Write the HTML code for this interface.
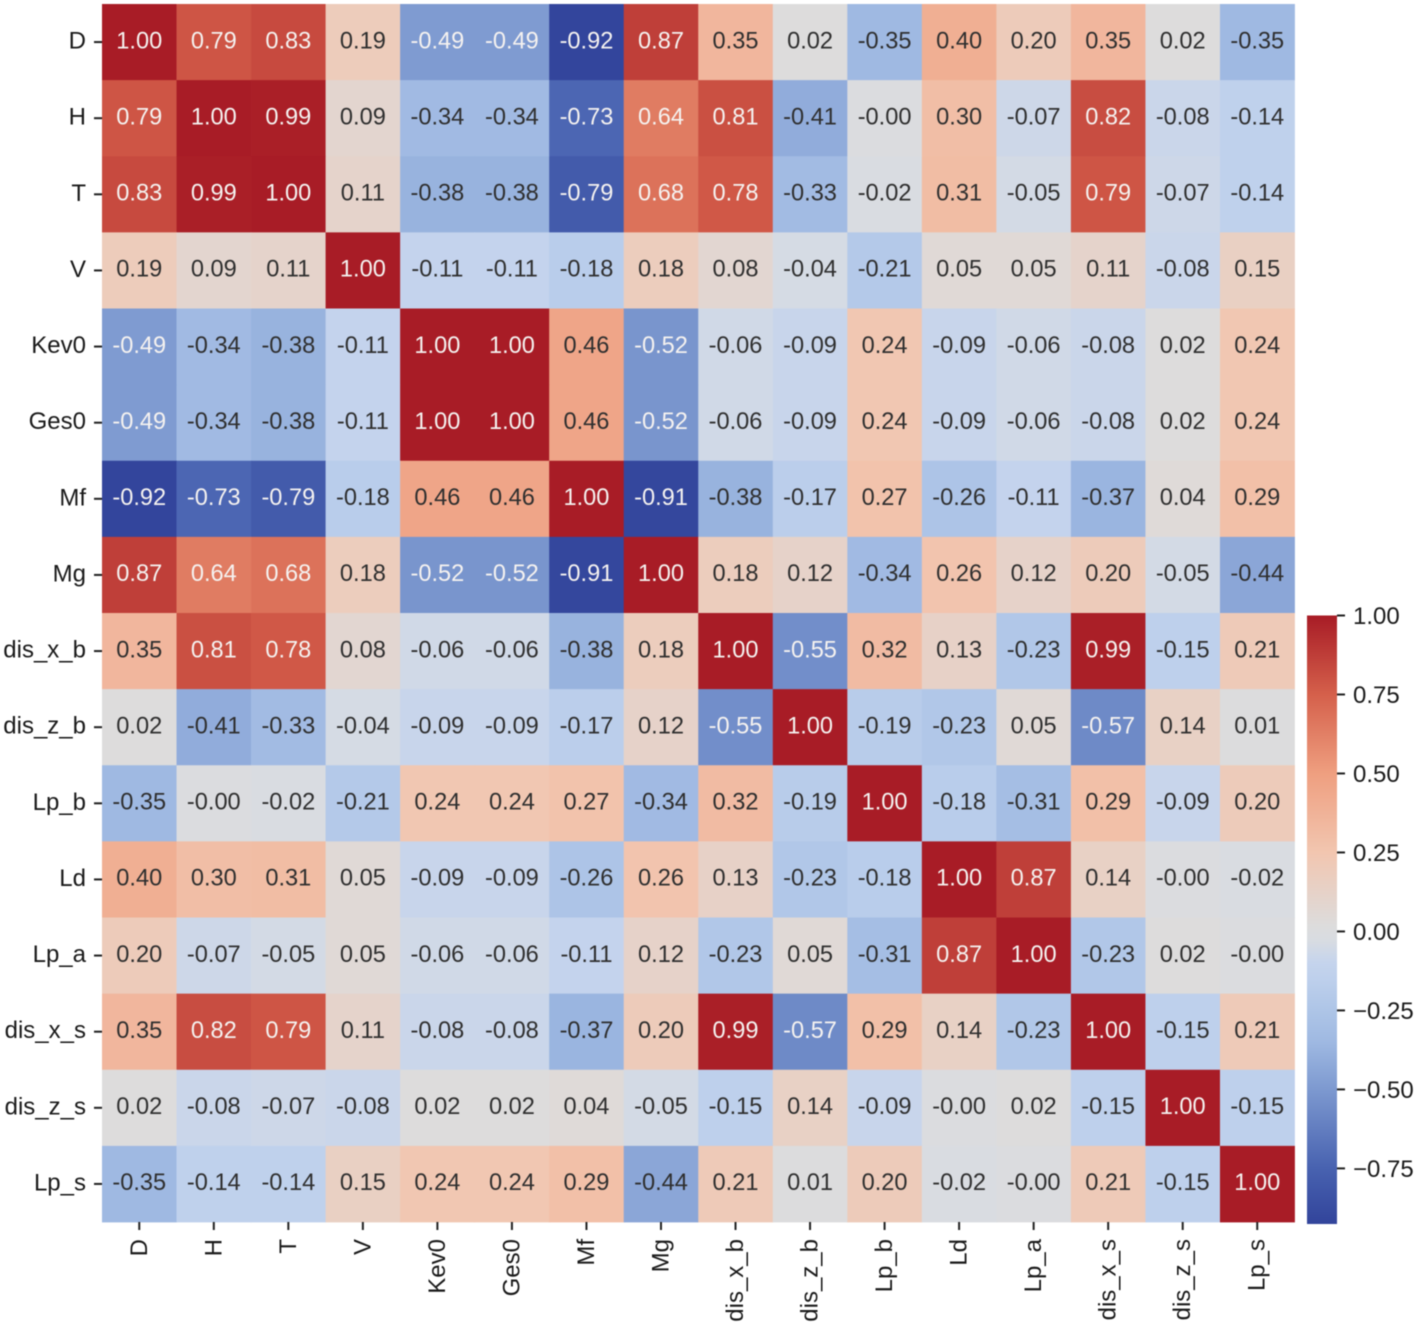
<!DOCTYPE html>
<html lang="en">
<head>
<meta charset="utf-8">
<title>Correlation heatmap</title>
<style>
html,body{margin:0;padding:0;background:#fff;}
body{width:1417px;height:1325px;overflow:hidden;}
svg{display:block;font-family:"Liberation Sans",Arial,sans-serif;filter:blur(0.45px);}
</style>
</head>
<body>
<svg id="chart" xmlns="http://www.w3.org/2000/svg" width="1417" height="1325" viewBox="0 0 1417 1325"></svg>
<script>
const categories = ["D","H","T","V","Kev0","Ges0","Mf","Mg","dis_x_b","dis_z_b","Lp_b","Ld","Lp_a","dis_x_s","dis_z_s","Lp_s"];
const rowD      = [1.00,0.79,0.83,0.19,-0.49,-0.49,-0.92,0.87,0.35,0.02,-0.35,0.40,0.20,0.35,0.02,-0.35];
const rowH      = [0.79,1.00,0.99,0.09,-0.34,-0.34,-0.73,0.64,0.81,-0.41,-0.004,0.30,-0.07,0.82,-0.08,-0.14];
const rowT      = [0.83,0.99,1.00,0.11,-0.38,-0.38,-0.79,0.68,0.78,-0.33,-0.02,0.31,-0.05,0.79,-0.07,-0.14];
const rowV      = [0.19,0.09,0.11,1.00,-0.11,-0.11,-0.18,0.18,0.08,-0.04,-0.21,0.05,0.05,0.11,-0.08,0.15];
const rowKev0   = [-0.49,-0.34,-0.38,-0.11,1.00,1.00,0.46,-0.52,-0.06,-0.09,0.24,-0.09,-0.06,-0.08,0.02,0.24];
const rowGes0   = [-0.49,-0.34,-0.38,-0.11,1.00,1.00,0.46,-0.52,-0.06,-0.09,0.24,-0.09,-0.06,-0.08,0.02,0.24];
const rowMf     = [-0.92,-0.73,-0.79,-0.18,0.46,0.46,1.00,-0.91,-0.38,-0.17,0.27,-0.26,-0.11,-0.37,0.04,0.29];
const rowMg     = [0.87,0.64,0.68,0.18,-0.52,-0.52,-0.91,1.00,0.18,0.12,-0.34,0.26,0.12,0.20,-0.05,-0.44];
const rowDisXB  = [0.35,0.81,0.78,0.08,-0.06,-0.06,-0.38,0.18,1.00,-0.55,0.32,0.13,-0.23,0.99,-0.15,0.21];
const rowDisZB  = [0.02,-0.41,-0.33,-0.04,-0.09,-0.09,-0.17,0.12,-0.55,1.00,-0.19,-0.23,0.05,-0.57,0.14,0.01];
const rowLpB    = [-0.35,-0.004,-0.02,-0.21,0.24,0.24,0.27,-0.34,0.32,-0.19,1.00,-0.18,-0.31,0.29,-0.09,0.20];
const rowLd     = [0.40,0.30,0.31,0.05,-0.09,-0.09,-0.26,0.26,0.13,-0.23,-0.18,1.00,0.87,0.14,-0.004,-0.02];
const rowLpA    = [0.20,-0.07,-0.05,0.05,-0.06,-0.06,-0.11,0.12,-0.23,0.05,-0.31,0.87,1.00,-0.23,0.02,-0.004];
const rowDisXS  = [0.35,0.82,0.79,0.11,-0.08,-0.08,-0.37,0.20,0.99,-0.57,0.29,0.14,-0.23,1.00,-0.15,0.21];
const rowDisZS  = [0.02,-0.08,-0.07,-0.08,0.02,0.02,0.04,-0.05,-0.15,0.14,-0.09,-0.004,0.02,-0.15,1.00,-0.15];
const rowLpS    = [-0.35,-0.14,-0.14,0.15,0.24,0.24,0.29,-0.44,0.21,0.01,0.20,-0.02,-0.004,0.21,-0.15,1.00];
const matrix = [rowD,rowH,rowT,rowV,rowKev0,rowGes0,rowMf,rowMg,rowDisXB,rowDisZB,rowLpB,rowLd,rowLpA,rowDisXS,rowDisZS,rowLpS];
const colorbarTicks = [1.00,0.75,0.50,0.25,0.00,-0.25,-0.50,-0.75];
const colorValues = [-0.926,-0.75,-0.5,-0.35,-0.25,-0.15,-0.1,-0.03,0.02,0.25,0.5,0.75,1];
const colorRGB = [[50,68,155],[72,98,176],[125,153,208],[159,185,226],[174,197,231],[190,208,236],[197,212,237],[216,220,226],[221,220,220],[242,198,176],[239,159,128],[213,96,75],[168,28,38]];

const svg = document.getElementById('chart');
const NS = 'http://www.w3.org/2000/svg';
const plot = {left:102, right:1294.5, top:4, bottom:1222};
const bar = {left:1307, right:1337, top:615.5, bottom:1224};
const vmin = -0.926, vmax = 1;
const n = categories.length;
const xBand = i => plot.left + i*(plot.right-plot.left)/n;
const yBand = i => plot.top + i*(plot.bottom-plot.top)/n;
const barY = v => bar.top + (vmax-v)/(vmax-vmin)*(bar.bottom-bar.top);

function colorOf(v){
  let k = 0;
  while(k < colorValues.length-2 && v > colorValues[k+1]) k++;
  const t = Math.max(0, Math.min(1, (v-colorValues[k])/(colorValues[k+1]-colorValues[k])));
  const c = colorRGB[k].map((a,j)=>Math.round(a+(colorRGB[k+1][j]-a)*t));
  return 'rgb('+c.join(',')+')';
}
function make(tag, attrs, text){
  const el = document.createElementNS(NS, tag);
  for(const k in attrs) el.setAttribute(k, attrs[k]);
  if(text !== undefined) el.textContent = text;
  svg.appendChild(el);
  return el;
}

const bw = xBand(1)-xBand(0), bh = yBand(1)-yBand(0);
const isLight = v => v >= 0.6 || v <= -0.49;

matrix.forEach((row, r) => {
  row.forEach((v, c) => {
    const cell = make('rect', {x:xBand(c), y:yBand(r), width:bw+0.4, height:bh+0.4, fill:colorOf(v)});
    
    
  });
});
matrix.forEach((row, r) => {
  row.forEach((v, c) => {
    const label = make('text', {x:xBand(c)+bw/2, y:yBand(r)+bh/2+6.3, 'text-anchor':'middle', 'font-size':'23.6', fill:isLight(v)?'#f5f2f0':'#2f2f2f'}, v.toFixed(2));
    
    
  });
});

categories.forEach((name, i) => {
  const y = yBand(i)+bh/2;
  const yTick = make('rect', {x:plot.left-8, y:y-1, width:8, height:2, fill:'#222'});
  
  
  const yLabel = make('text', {x:plot.left-16, y:y+6.5, 'text-anchor':'end', 'font-size':'24', fill:'#1a1a1a'}, name);
  
  

  const x = xBand(i)+bw/2;
  const xTick = make('rect', {x:x-1, y:plot.bottom, width:2, height:8, fill:'#222'});
  
  
  const xLabel = make('text', {transform:'translate('+(x+7.5)+','+(plot.bottom+17)+') rotate(-90)', 'text-anchor':'end', 'font-size':'24', fill:'#1a1a1a'}, name);
  
  
});

const defs = make('defs', {});
const grad = document.createElementNS(NS, 'linearGradient');
grad.setAttribute('id', 'cbar-gradient');
grad.setAttribute('x1', '0'); grad.setAttribute('x2', '0');
grad.setAttribute('y1', '0'); grad.setAttribute('y2', '1');
colorValues.slice().reverse().forEach(v => {
  const s = document.createElementNS(NS, 'stop');
  s.setAttribute('offset', (vmax-v)/(vmax-vmin));
  s.setAttribute('stop-color', colorOf(v));
  grad.appendChild(s);
});
defs.appendChild(grad);

const cbar = make('rect', {x:bar.left, y:bar.top, width:bar.right-bar.left, height:bar.bottom-bar.top, fill:'url(#cbar-gradient)'});



colorbarTicks.forEach(v => {
  const y = barY(v);
  const tick = make('rect', {x:bar.right, y:y-1, width:8, height:2, fill:'#222'});
  
  
  const text = (v < 0 ? '\u2212' : '') + Math.abs(v).toFixed(2);
  const label = make('text', {x:bar.right+16, y:y+8.5, 'font-size':'24', fill:'#1a1a1a'}, text);
  
  
});
</script>
</body>
</html>
